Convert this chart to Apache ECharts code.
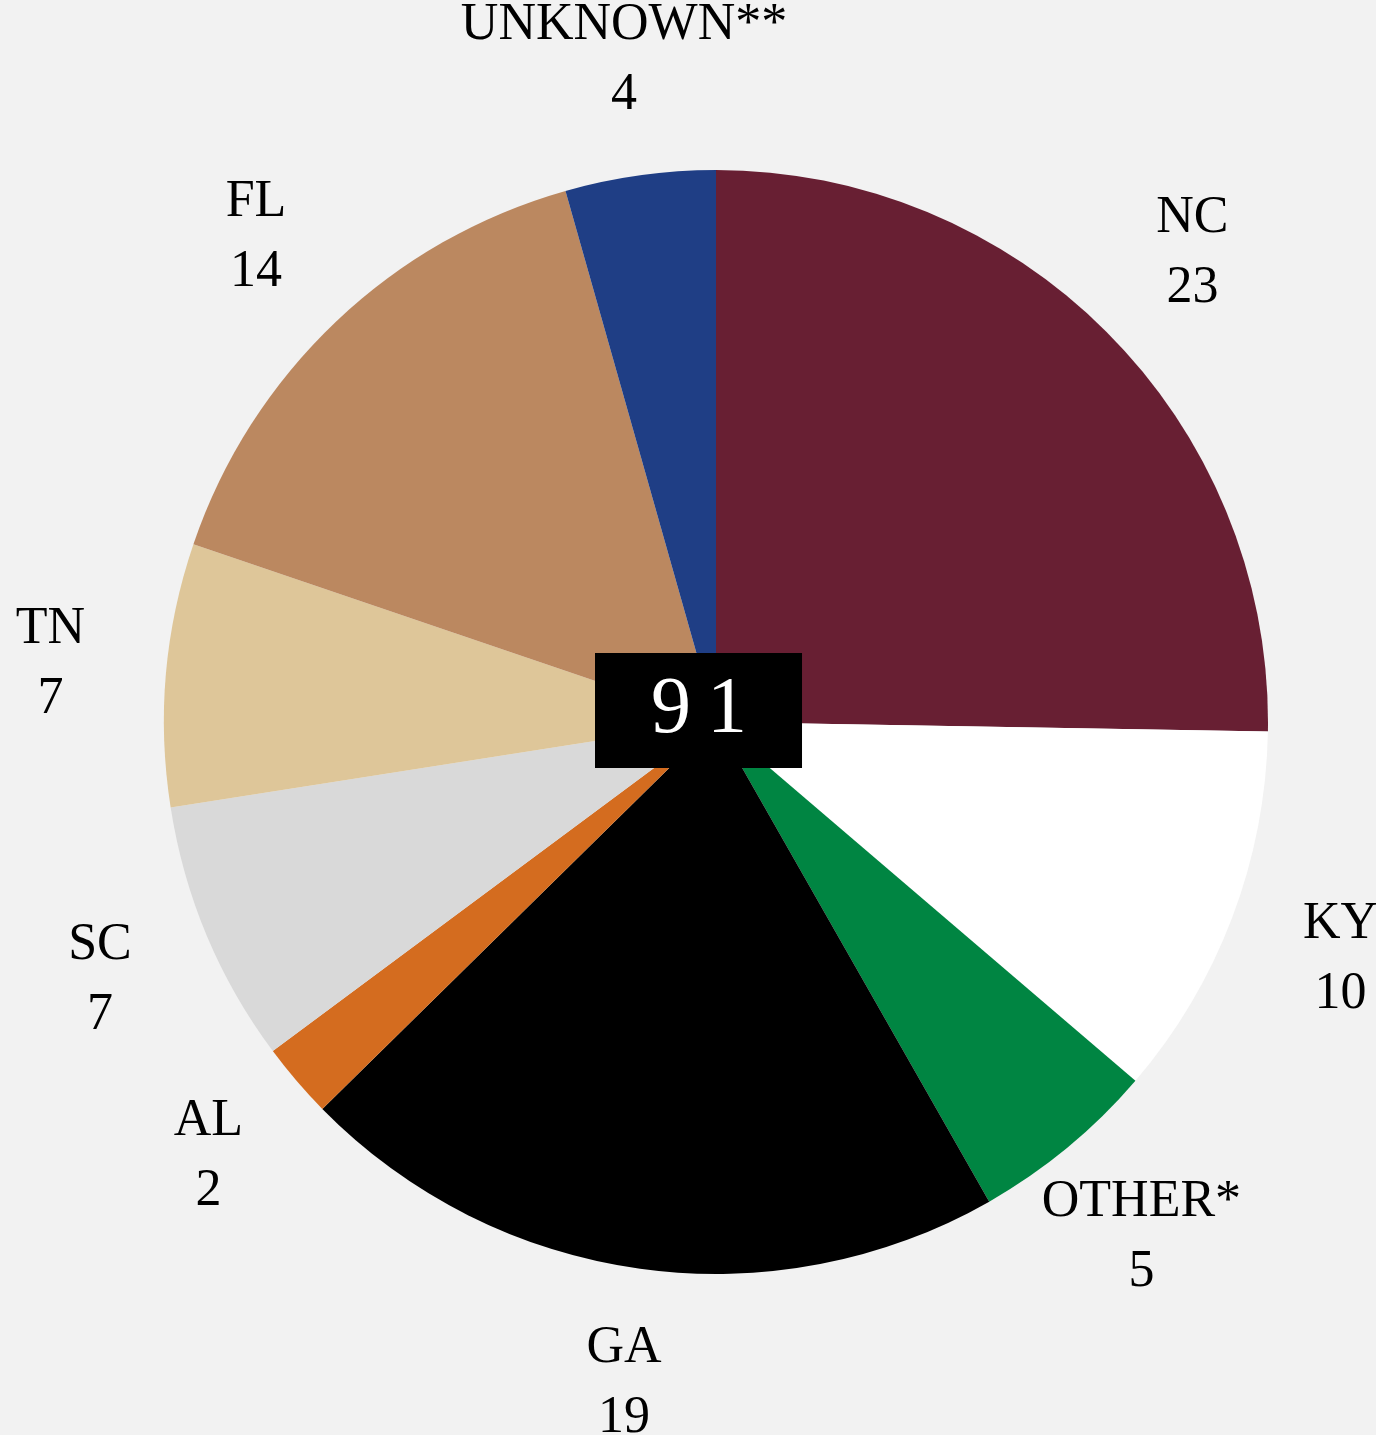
<!DOCTYPE html>
<html>
<head>
<meta charset="utf-8">
<script src="https://cdn.jsdelivr.net/npm/echarts@6/dist/echarts.min.js"></script>
<style>
  html, body { margin: 0; padding: 0; background: #f2f2f2; }
  #chart { width: 1376px; height: 1435px; }
</style>
</head>
<body>
<div id="chart"></div>
<script>
// data
const states = ["NC", "KY", "OTHER*", "GA", "AL", "SC", "TN", "FL", "UNKNOWN**"];
const counts = [23, 10, 5, 19, 2, 7, 7, 14, 4];
const colors = ["#681f33", "#ffffff", "#008542", "#000000", "#d46c1f", "#d9d9d9", "#dec699", "#bb8860", "#1f3e85"];

const total = counts.reduce((a, b) => a + b, 0);
const serif = "Liberation Serif";

const pieData = states.map((name, i) => ({
  name: name,
  value: counts[i],
  itemStyle: { color: colors[i] },
}));

const chart = echarts.init(document.getElementById("chart"));

const option = {
  backgroundColor: "#f2f2f2",
  animation: false,
  series: [
    {
      type: "pie",
      center: [716, 722],
      radius: 552,
      startAngle: 90,
      clockwise: true,
      silent: true,
      avoidLabelOverlap: false,
      itemStyle: { borderWidth: 0 },
      label: { show: false },
      labelLine: { show: false },
      data: pieData,
    },
    {
      // invisible ring that only carries the labels
      type: "pie",
      center: [716, 722],
      radius: [630, 700],
      startAngle: 90,
      clockwise: true,
      silent: true,
      avoidLabelOverlap: false,
      itemStyle: { color: "transparent", borderWidth: 0 },
      label: {
        show: true,
        position: "inside",
        color: "#000",
        fontFamily: serif,
        fontSize: 52,
        lineHeight: 70,
        align: "center",
        formatter: "{b}\n{c}",
      },
      labelLine: { show: false },
      data: pieData.map((d) => ({ name: d.name, value: d.value })),
    },
  ],
  graphic: [
    {
      // total in the black box at the centre
      type: "text",
      left: 595,
      top: 653,
      z: 100,
      style: {
        text: String(total).split("").join("\u2009"),
        fill: "#fff",
        font: "80px " + serif,
        backgroundColor: "#000",
        padding: [18, 55, 17, 56],
        lineHeight: 80,
      },
    },
  ],
};

chart.setOption(option);
</script>
</body>
</html>
